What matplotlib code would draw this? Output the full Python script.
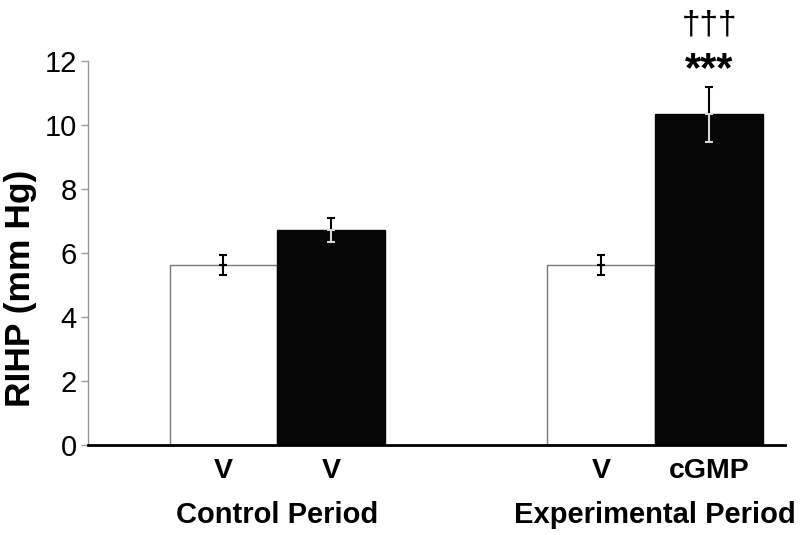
import matplotlib.pyplot as plt
import matplotlib.transforms as mtransforms

# RIHP data
groups = ['Control Period', 'Experimental Period']
bar_labels = ['V', 'V', 'V', 'cGMP']
values = [5.62, 6.72, 5.63, 10.33]
errors = [0.32, 0.36, 0.32, 0.87]
positions = [0, 1, 3.5, 4.5]
fills = ['white', '#060606', 'white', '#060606']

plt.rcParams['font.family'] = ['Liberation Sans', 'DejaVu Sans']

fig = plt.figure(figsize=(8, 5.35), dpi=100)
ax = fig.add_axes([0.11, 0.168, 0.871, 0.718])

ax.bar(positions, values, width=1.0, color=fills, edgecolor=['#777777', '#060606', '#777777', '#060606'],
       linewidth=1.0, zorder=2)

# error bars: upper half black, lower half light where it sits on a black bar
for x, v, e, c in zip(positions, values, errors, fills):
    low_col = 'black' if c == 'white' else '#d8d8d8'
    ax.errorbar([x], [v], yerr=[[0], [e]], fmt='none', ecolor='black', elinewidth=1.5,
                capsize=3, capthick=1.5, zorder=3)
    ax.errorbar([x], [v], yerr=[[e], [0]], fmt='none', ecolor=low_col, elinewidth=1.5,
                capsize=3, capthick=1.5, zorder=3)

ax.set_xlim(-1.255, 5.2)
ax.set_ylim(0, 12)
ax.set_yticks([0, 2, 4, 6, 8, 10, 12])
ax.tick_params(axis='y', labelsize=21, length=5, width=1, color='#999999', pad=3)
ax.set_xticks(positions)
ax.set_xticklabels(bar_labels, fontsize=20.5, fontweight='bold')
ax.tick_params(axis='x', length=0, pad=9)

for s in ['top', 'right']:
    ax.spines[s].set_visible(False)
ax.spines['left'].set_color('#999999')
ax.spines['left'].set_linewidth(1)
ax.spines['bottom'].set_color('black')
ax.spines['bottom'].set_linewidth(2)

fig.text(21 / 800, 1 - 288 / 535, 'RIHP (mm Hg)', rotation=90, ha='center', va='center',
         fontsize=25.5, fontweight='bold')

trans = mtransforms.blended_transform_factory(ax.transData, fig.transFigure)
ax.text((positions[0] + positions[1]) / 2, 1 - 515 / 535, groups[0], transform=trans,
        ha='center', va='center', fontsize=21, fontweight='bold')
ax.text((positions[2] + positions[3]) / 2, 1 - 515 / 535, groups[1], transform=trans,
        ha='center', va='center', fontsize=21, fontweight='bold')

# significance marks above the cGMP bar
ax.text(positions[3], 1 - 70 / 535, '***', transform=trans, ha='center', va='center',
        fontsize=30, fontweight='bold', clip_on=False)
ax.text(positions[3], 1 - 25 / 535, '†††', transform=trans, ha='center', va='center',
        fontsize=24, clip_on=False)

fig.savefig('out.png', dpi=100)
